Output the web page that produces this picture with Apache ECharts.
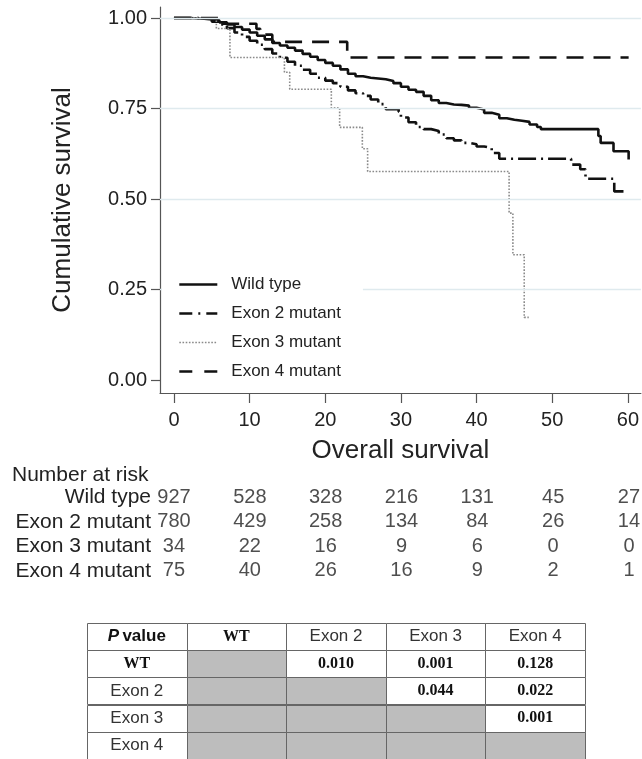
<!DOCTYPE html>
<html>
<head>
<meta charset="utf-8">
<script src="https://cdn.jsdelivr.net/npm/echarts@6/dist/echarts.min.js"></script>
<style>
html,body{margin:0;padding:0;background:#fff;}
#chart{width:642px;height:759px;}
</style>
</head>
<body>
<div id="chart"></div>
<script>
// ---------- Kaplan-Meier curves (time in months, cumulative survival) ----------
const seriesNames = ['Wild type', 'Exon 2 mutant', 'Exon 3 mutant', 'Exon 4 mutant'];

const tWT = [0, 2, 4, 6, 7, 8, 9, 10, 11, 12, 13, 14, 15, 16, 17, 18, 19, 20, 21, 22, 23, 24, 25, 26, 27, 28, 29, 30, 31, 32, 33, 34, 35, 36, 37, 38, 39, 40, 41, 42, 43, 44, 45, 46, 47, 48, 48.5, 56.1, 56.4, 58.1, 60.1];
const sWT = [1, 0.998, 0.994, 0.988, 0.982, 0.975, 0.968, 0.96, 0.951, 0.941, 0.931, 0.924, 0.918, 0.91, 0.901, 0.893, 0.884, 0.876, 0.868, 0.858, 0.846, 0.839, 0.835, 0.833, 0.831, 0.826, 0.82, 0.81, 0.802, 0.796, 0.785, 0.773, 0.765, 0.761, 0.76, 0.758, 0.752, 0.747, 0.738, 0.733, 0.723, 0.719, 0.716, 0.713, 0.706, 0.699, 0.693, 0.674, 0.655, 0.632, 0.609];

const tEx2 = [0, 3, 5, 6, 7, 8, 9, 10, 11, 12, 13, 14, 15, 16, 17, 18, 19, 20, 21, 22, 23, 24, 25, 26, 27, 28, 29.7, 30, 31, 32, 33, 34, 35, 36, 37, 38, 39, 40, 41, 42, 43, 52.5, 53.7, 54.4, 58.2, 59.5];
const sEx2 = [1, 0.998, 0.99, 0.982, 0.972, 0.96, 0.948, 0.937, 0.926, 0.914, 0.902, 0.89, 0.879, 0.868, 0.857, 0.846, 0.835, 0.827, 0.82, 0.81, 0.8, 0.792, 0.785, 0.775, 0.762, 0.748, 0.741, 0.725, 0.712, 0.699, 0.693, 0.688, 0.678, 0.668, 0.662, 0.655, 0.651, 0.645, 0.641, 0.627, 0.611, 0.595, 0.582, 0.556, 0.521, 0.521];

const tEx3 = [0, 5.6, 7.4, 14.6, 15.3, 20.8, 21.9, 24.9, 25.6, 44.3, 44.8, 46.3, 46.9];
const sEx3 = [1, 0.971, 0.891, 0.85, 0.803, 0.752, 0.698, 0.639, 0.576, 0.461, 0.346, 0.173, 0.173];

const tEx4 = [0, 6.2, 10.9, 11.4, 13, 22.9, 60.1];
const sEx4 = [1, 0.984, 0.97, 0.954, 0.934, 0.891, 0.891];

// ---------- axes ----------
const xTicks = [0, 10, 20, 30, 40, 50, 60];
const yTicks = [0, 0.25, 0.5, 0.75, 1];
const gridLineValues = [0.25, 0.5, 0.75, 1];

// ---------- number at risk ----------
const riskTimes = [0, 10, 20, 30, 40, 50, 60];
const riskWT  = [927, 528, 328, 216, 131, 45, 27];
const riskEx2 = [780, 429, 258, 134, 84, 26, 14];
const riskEx3 = [34, 22, 16, 9, 6, 0, 0];
const riskEx4 = [75, 40, 26, 16, 9, 2, 1];

// ---------- P value table ----------
const pHeader = ['P value', 'WT', 'Exon 2', 'Exon 3', 'Exon 4'];
const pRowLabels = ['WT', 'Exon 2', 'Exon 3', 'Exon 4'];
const pValues = [
  ['', '0.010', '0.001', '0.128'],
  ['', '', '0.044', '0.022'],
  ['', '', '', '0.001'],
  ['', '', '', '']
];

const SANS = '"Liberation Sans", Arial, sans-serif';
const SERIF = '"Liberation Serif", "Times New Roman", serif';
const zip = (a, b) => a.map((v, i) => [v, b[i]]);

// line styles per series
const lineStyles = [
  { color: '#111', width: 2.6, type: 'solid' },
  { color: '#111', width: 2.6, type: [18, 5, 2, 5] },
  { color: '#8a8a8a', width: 1.6, type: [1.6, 1.6] },
  { color: '#111', width: 2.6, type: [17, 10] }
];
const legendLineStyles = [
  { color: '#111', width: 2.6, type: 'solid' },
  { color: '#111', width: 2.6, type: [13, 6, 2, 6] },
  { color: '#8a8a8a', width: 1.6, type: [1.6, 1.6] },
  { color: '#111', width: 2.6, type: [13, 12] }
];

// risk data
const riskRows = [riskWT, riskEx2, riskEx3, riskEx4];
const riskData = [];
riskRows.forEach((row, r) => row.forEach((v, k) => riskData.push([riskTimes[k], seriesNames[r], v])));

// table data
const tableData = [];
pHeader.forEach((h, c) => tableData.push({ value: [c, 0], txt: h, kind: c === 0 ? 'pv' : (c === 1 ? 'serifb' : 'sans'), gray: false }));
pRowLabels.forEach((rl, i) => {
  tableData.push({ value: [0, i + 1], txt: rl, kind: i === 0 ? 'serifb' : 'sans', gray: false });
  pValues[i].forEach((v, j) => tableData.push({ value: [j + 1, i + 1], txt: v, kind: 'serifb', gray: j <= i }));
});

const xMin = -1.846, xMax = 61.72;
const curveData = [zip(tWT, sWT), zip(tEx2, sEx2), zip(tEx3, sEx3), zip(tEx4, sEx4)];
const curveSeries = seriesNames.map((n, i) => ({
  type: 'line', step: 'end', symbol: 'none', showSymbol: false, xAxisIndex: 0, yAxisIndex: 0, z: 3,
  name: n, data: curveData[i], lineStyle: lineStyles[i], itemStyle: { color: lineStyles[i].color }
}));

const option = {
  animation: false,
  backgroundColor: '#fff',
  textStyle: { fontFamily: SANS },
  title: {
    text: 'Number at risk', left: 7, top: 460,
    textStyle: { fontFamily: SANS, fontSize: 21, fontWeight: 'normal', color: '#222' }
  },
  legend: {
    data: seriesNames.map((n, i) => ({ name: n, lineStyle: legendLineStyles[i], itemStyle: { opacity: 0 } })),
    orient: 'vertical', left: 162, top: 266,
    padding: [10, 22, 10, 16],
    backgroundColor: '#fff',
    itemWidth: 38, itemHeight: 14, itemGap: 12,
    itemStyle: { opacity: 0 },
    textStyle: { fontFamily: SANS, fontSize: 17, color: '#222', padding: [0, 0, 0, 9] },
    z: 10
  },
  grid: [
    { left: 160, right: 0, top: 7, bottom: 366 },
    { left: 160, right: 0, top: 485, height: 98 },
    { left: 87, width: 498, top: 623, height: 137 }
  ],
  xAxis: [
    {
      type: 'value', gridIndex: 0, min: xMin, max: xMax,
      name: 'Overall survival', nameLocation: 'middle', nameGap: 45,
      nameTextStyle: { fontFamily: SANS, fontSize: 26, color: '#222' },
      axisLine: { show: true, onZero: false, lineStyle: { color: '#555', width: 1.2 } },
      axisTick: { show: true, length: 10, customValues: xTicks, lineStyle: { color: '#555', width: 1.2 } },
      axisLabel: { customValues: xTicks, margin: 17, fontSize: 20, color: '#222', fontFamily: SANS },
      splitLine: { show: false }
    },
    { type: 'value', gridIndex: 1, min: xMin, max: xMax, show: false },
    { type: 'category', gridIndex: 2, data: [0, 1, 2, 3, 4], show: false }
  ],
  yAxis: [
    {
      type: 'value', gridIndex: 0, min: -0.0359, max: 1.0304,
      name: 'Cumulative survival', nameLocation: 'middle', nameGap: 84,
      nameTextStyle: { fontFamily: SANS, fontSize: 26, color: '#222' },
      axisLine: { show: true, onZero: false, lineStyle: { color: '#555', width: 1.2 } },
      axisTick: { show: true, length: 9, customValues: yTicks, lineStyle: { color: '#555', width: 1.2 } },
      axisLabel: { customValues: yTicks, margin: 13, fontSize: 20, color: '#222', fontFamily: SANS, formatter: v => v.toFixed(2) },
      splitLine: { show: false }
    },
    {
      type: 'category', gridIndex: 1, data: seriesNames, inverse: true,
      axisLine: { show: false }, axisTick: { show: false },
      axisLabel: { interval: 0, margin: 9, fontSize: 21, color: '#222', fontFamily: SANS }
    },
    { type: 'category', gridIndex: 2, data: [0, 1, 2, 3, 4], inverse: true, show: false }
  ],
  series: [
    {
      type: 'line', xAxisIndex: 0, yAxisIndex: 0, data: [], z: 1, silent: true,
      markLine: {
        silent: true, symbol: 'none', label: { show: false },
        lineStyle: { color: '#dfeaee', width: 1.3, type: 'solid' },
        data: gridLineValues.map(v => ({ yAxis: v }))
      }
    }
  ].concat(curveSeries).concat([
    {
      type: 'scatter', xAxisIndex: 1, yAxisIndex: 1, data: riskData,
      symbolSize: 1, itemStyle: { color: 'rgba(0,0,0,0)' }, silent: true,
      label: { show: true, position: 'inside', formatter: p => String(p.value[2]),
        fontSize: 20, color: '#222', fontFamily: SANS }
    },
    {
      type: 'custom', xAxisIndex: 2, yAxisIndex: 2, data: tableData, silent: true,
      renderItem: function (params, api) {
        const it = tableData[params.dataIndex];
        const c = api.coord([api.value(0), api.value(1)]);
        const s = api.size([1, 1]);
        const x0 = Math.round(c[0] - s[0] / 2) + 0.5, y0 = Math.round(c[1] - s[1] / 2) + 0.5;
        const w = Math.round(s[0]), h = Math.round(s[1]);
        let textStyle;
        if (it.kind === 'pv') {
          textStyle = { text: '{i|P} {b|value}', rich: {
            i: { fontStyle: 'italic', fontWeight: 'bold', fontSize: 17, fontFamily: SANS, fill: '#111' },
            b: { fontWeight: 'bold', fontSize: 17, fontFamily: SANS, fill: '#111' } } };
        } else if (it.kind === 'serifb') {
          textStyle = { text: it.txt, font: 'bold 16px ' + SERIF, fill: '#111' };
        } else {
          textStyle = { text: it.txt, font: '17px ' + SANS, fill: '#333' };
        }
        textStyle.align = 'center';
        textStyle.verticalAlign = 'middle';
        return {
          type: 'group',
          children: [
            { type: 'rect', shape: { x: x0, y: y0, width: w, height: h },
              style: { fill: it.gray ? '#bdbdbd' : '#fff', stroke: '#666', lineWidth: 1 } },
            { type: 'text', x: c[0], y: c[1], style: textStyle }
          ]
        };
      }
    }
  ])
};

const chart = echarts.init(document.getElementById('chart'), null, { renderer: 'canvas' });
chart.setOption(option);
</script>
</body>
</html>
